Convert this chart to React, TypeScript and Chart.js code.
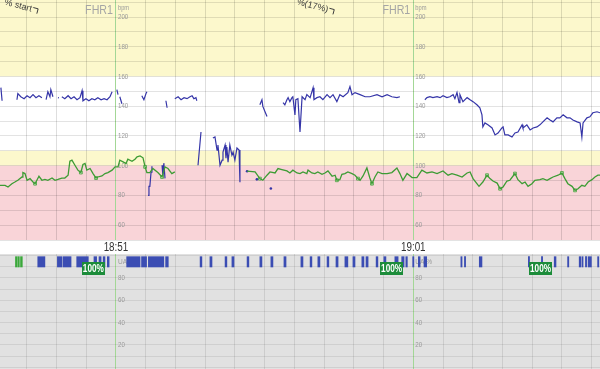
import React, { useEffect, useRef } from 'react';
import { Chart, registerables } from 'chart.js';

Chart.register(...registerables);

// Time axis in minutes relative to 18:51
const X_MIN = -3.9;
const X_MAX = 16.28;
const majorMinutes = [0, 10];
const timeLabels = ['18:51', '19:01'];

const FHR_MIN = 50;
const FHR_MAX = 211.5;
const UA_MIN = -1.5;
const UA_MAX = 101.3;

const fhrTicks = [200, 180, 160, 140, 120, 100, 80, 60];
const uaTicks = [80, 60, 40, 20];

const bandLow = [160, 110, 100, 50];
const bandHigh = [211.5, 160, 110, 100];
const bandColor = ['#fcf8cc', '#ffffff', '#fcf8cc', '#f9d4d8'];

// Maternal heart rate (green)
const mhrTimes = [
  -3.90, -3.73, -3.63, -3.50, -3.40, -3.30, -3.16, -3.13, -3.06, -2.99, -2.89, -2.79, -2.72, -2.66, -2.59, -2.49,
  -2.39, -2.29, -2.15, -2.05, -1.95, -1.82, -1.72, -1.61, -1.55, -1.48, -1.38, -1.28, -1.18, -1.11, -1.04, -0.98,
  -0.87, -0.77, -0.67, -0.61, -0.47, -0.37, -0.27, -0.13, -0.03, 0.07, 0.13, 0.24, 0.34, 0.40, 0.54, 0.64, 0.71,
  0.81, 0.91, 0.98, 1.04, 1.14, 1.24, 1.41, 1.55, 1.65, 1.75, 1.88, 1.98, 2.2,
  4.41, 4.68, 4.84, 4.94, 5.08, 5.18, 5.35, 5.45, 5.58, 5.75, 5.85, 5.95, 6.09, 6.19, 6.29, 6.42, 6.46, 6.59, 6.69,
  6.79, 6.93, 7.03, 7.13, 7.27, 7.37, 7.43, 7.53, 7.60, 7.70, 7.80, 7.94, 8.04, 8.14, 8.21, 8.31, 8.44, 8.54, 8.61,
  8.71, 8.81, 8.95, 9.12, 9.28, 9.45, 9.55, 9.65, 9.79, 9.96, 10.12, 10.29, 10.46, 10.63, 10.80, 11.00, 11.17,
  11.30, 11.47, 11.64, 11.81, 11.91, 12.01, 12.14, 12.21, 12.34, 12.48, 12.58, 12.68, 12.82, 12.92, 13.02, 13.15,
  13.25, 13.42, 13.52, 13.66, 13.76, 13.86, 13.99, 14.09, 14.26, 14.36, 14.50, 14.60, 14.70, 14.87, 15.00, 15.10,
  15.20, 15.34, 15.44, 15.54, 15.67, 15.77, 15.88, 16.01, 16.11, 16.21, 16.28,
];
const mhrValues = [
  86.8, 86.8, 85.7, 87.9, 89.0, 90.2, 92.4, 95.4, 94.7, 90.2, 91.3, 89.0, 87.9, 90.2, 92.9, 90.2,
  90.8, 90.2, 91.7, 90.2, 90.8, 91.7, 91.7, 93.6, 103.0, 103.7, 100.3, 97.0, 95.4, 100.8, 101.5, 97.0,
  98.1, 94.7, 91.7, 92.4, 93.1, 94.7, 95.4, 97.0, 99.2, 99.2, 103.7, 102.6, 101.5, 104.4, 103.0, 104.4, 106.0,
  106.6, 105.3, 99.2, 95.4, 95.4, 98.1, 95.4, 92.4, 99.2, 98.1, 94.7, 95.8, null,
  96.3, 95.8, 91.3, 90.2, 93.6, 95.8, 95.1, 98.1, 97.4, 96.5, 95.1, 97.0, 95.1, 94.7, 95.8, 94.7, 97.0, 95.1, 94.7,
  95.8, 94.2, 95.1, 96.5, 92.9, 93.6, 90.2, 90.6, 94.2, 94.7, 95.8, 94.7, 93.6, 91.3, 90.2, 93.1, 98.5, 91.7, 87.9,
  92.4, 95.8, 94.7, 94.7, 95.4, 98.5, 94.7, 90.2, 94.7, 92.0, 92.0, 97.0, 95.1, 95.8, 94.7, 96.5, 93.6,
  94.7, 93.6, 92.4, 95.1, 95.8, 91.3, 87.9, 86.1, 89.0, 93.6, 91.3, 89.7, 88.3, 84.5, 85.7, 89.7,
  90.2, 94.7, 90.6, 87.9, 89.0, 86.1, 87.9, 90.2, 90.6, 91.3, 90.2, 91.3, 92.4, 93.6, 95.1, 91.3,
  87.9, 86.1, 83.4, 84.5, 86.8, 86.1, 89.0, 90.6, 92.4, 93.6, 93.6,
];

// Marked maternal samples (small squares on the green trace)
const mhrMarkTimes = [-2.72, -1.18, -0.67, 0.98, 1.55, 4.84, 7.43, 8.14, 8.61, 12.48, 12.92, 13.42, 15.00, 15.44];
const mhrMarkValues = [87.9, 95.4, 91.7, 99.2, 92.4, 91.3, 90.2, 91.3, 87.9, 93.6, 84.5, 94.7, 95.1, 83.4];

// Fetal heart rate FHR1 (blue), null = signal gap
const fhrTimes = [
  -3.87, -3.83, -3.6,
  -3.33, -3.30, -3.20, -3.09, -2.99, -2.89, -2.79, -2.69, -2.59, -2.49, -2.42,
  -2.35, -2.29, -2.22, -2.19, -2.12, -2.0,
  -1.95, -1.92, -1.87,
  -1.82, -1.72, -1.61, -1.51, -1.41, -1.31, -1.21, -1.14, -1.11, -1.01, -0.91, -0.81, -0.71, -0.61, -0.50, -0.40,
  -0.30, -0.20, -0.13, -0.05,
  0.03, 0.07, 0.10,
  0.13, 0.20, 0.5,
  0.87, 0.94, 1.01, 1.04, 1.06,
  1.08, 1.11, 1.14, 1.18, 1.21, 1.4,
  1.55, 1.58, 1.61, 1.65, 1.66,
  1.68, 1.72, 1.85,
  1.98, 2.09, 2.19, 2.29, 2.39, 2.49, 2.56, 2.62, 2.69, 2.72, 2.74,
  2.76, 2.86, 3.0,
  3.26, 3.33, 3.40, 3.43, 3.50, 3.57, 3.60, 3.67, 3.70, 3.73, 3.77, 3.83, 3.90, 3.94, 4.00, 4.07, 4.14, 4.17, 4.5,
  4.84, 4.91, 4.94, 5.01, 5.08, 5.3,
  5.62, 5.68, 5.75, 5.79, 5.85, 5.92, 5.95, 6.02, 6.05, 6.12, 6.19, 6.26, 6.36, 6.42, 6.53, 6.63, 6.66, 6.76, 6.86,
  6.96, 7.10, 7.20, 7.30, 7.43, 7.53, 7.64, 7.80, 7.87, 7.94, 8.04, 8.21, 8.38, 8.54, 8.78, 8.95, 9.12, 9.28, 9.45,
  9.55, 10.0,
  10.39, 10.46, 10.56, 10.66, 10.80, 10.90, 11.00, 11.13, 11.23, 11.34, 11.40, 11.47, 11.54, 11.57, 11.67, 11.81,
  11.91, 12.01, 12.14, 12.24, 12.31, 12.34, 12.41, 12.51, 12.65, 12.75, 12.85, 12.98, 13.02, 13.08, 13.19, 13.32,
  13.42, 13.52, 13.66, 13.69, 13.82, 13.93, 14.03, 14.16, 14.26, 14.36, 14.50, 14.60, 14.70, 14.83, 14.93, 15.04,
  15.17, 15.27, 15.37, 15.51, 15.61, 15.67, 15.71, 15.84, 15.94, 16.04, 16.18, 16.28,
];
const fhrValues = [
  152.5, 143.7, null,
  144.4, 148.5, 146.4, 145.1, 147.1, 145.8, 147.8, 145.8, 147.1, 145.8, null,
  144.4, 149.8, 146.4, 151.2, 146.4, null,
  145.8, 145.6, null,
  146.4, 145.1, 147.1, 145.1, 146.4, 144.4, 145.8, 150.5, 143.7, 145.1, 143.7, 145.1, 144.4, 145.8, 144.4, 145.1,
  144.4, 146.4, 149.8, null,
  151.2, 147.8, null,
  146.4, 141.7, null,
  147.1, 144.4, 148.5, 149.8, null,
  80.0, 86.1, 86.1, 95.6, 99.7, null,
  100.3, 92.9, 101.7, 91.5, null,
  143.7, 139.0, null,
  145.1, 146.4, 144.4, 145.8, 145.1, 146.4, 147.1, 145.1, 145.8, 143.7, null,
  100.3, 122.7, null,
  118.6, 119.3, 110.5, 113.9, 100.3, 103.7, 109.2, 113.9, 105.1, 112.5, 102.4, 113.9, 107.1, 109.2, 103.7, 111.9, 110.5, 88.8, null,
  141.0, 144.4, 139.9, 136.5, 133.1, null,
  142.4, 141.0, 144.4, 145.8, 143.1, 145.8, 146.4, 134.2, 144.4, 145.1, 122.7, 146.4, 144.4, 147.8, 145.8, 152.5, 144.4, 145.8, 146.4,
  144.4, 147.8, 145.8, 147.8, 143.1, 147.8, 146.4, 149.2, 153.2, 147.8, 149.2, 147.8, 146.4, 146.4, 147.8, 146.4, 147.8, 146.4, 145.8,
  146.4, null,
  144.4, 145.8, 146.4, 145.8, 146.4, 145.8, 147.1, 145.8, 146.4, 147.8, 145.1, 149.2, 142.4, 147.8, 143.1, 145.8,
  144.4, 143.1, 141.0, 139.0, 134.2, 126.1, 128.8, 127.5, 125.4, 120.7, 122.0, 125.4, 126.1, 120.7, 120.7, 119.3,
  122.0, 122.7, 127.5, 125.4, 127.5, 124.1, 125.4, 126.1, 127.5, 129.5, 132.2, 130.8, 129.5, 132.2, 132.2, 134.2,
  132.2, 132.2, 130.8, 129.5, 128.8, 119.3, 128.8, 132.2, 132.9, 135.6, 136.3, 135.6,
];

// Isolated FHR1 samples
const fhrDotTimes = [4.41, 4.74, 5.21];
const fhrDotValues = [96.3, 90.8, 84.7];

// Signal-quality marks on the UA strip (start / end, minutes)
const qualBlueStart = [
  -2.63, -1.97, -1.77, -1.32, -0.74, -0.57, -0.43, -0.29, 0.36, 0.86, 1.09, 1.67, 2.83, 3.16, 3.67, 3.90, 4.41,
  4.84, 5.21, 5.65, 6.22, 6.53, 6.79, 7.10, 7.40, 7.70, 7.97, 8.27, 8.41, 8.75, 9.01, 9.38, 9.61, 9.75, 9.98,
  10.17, 10.36, 11.60, 11.72, 12.22, 13.87, 14.31, 14.74, 15.19, 15.58, 15.67, 15.79, 15.88, 16.20,
];
const qualBlueEnd = [
  -2.39, -1.81, -1.51, -0.93, -0.65, -0.50, -0.37, -0.23, 0.81, 1.03, 1.61, 1.76, 2.89, 3.23, 3.73, 3.97, 4.47,
  4.91, 5.28, 5.72, 6.29, 6.59, 6.86, 7.16, 7.47, 7.80, 8.04, 8.34, 8.48, 8.81, 9.08, 9.49, 9.69, 9.80, 10.00,
  10.23, 10.45, 11.64, 11.76, 12.31, 13.90, 14.35, 14.80, 15.23, 15.63, 15.71, 15.83, 15.99, 16.24,
];
const qualGreenStart = [-3.38, -3.29, -3.21];
const qualGreenEnd = [-3.32, -3.25, -3.15];
const QUAL_LEVEL = 94.3;

const qualityLabelTimes = [-0.76, 9.27, 14.28];
const qualityLabelText = ['100%', '100%', '100%'];

const annotationText = ['% start', '%(17%)'];
const annotationTimes = [-2.83, 7.13];
const annotationValues = [205.3, 204.8];

const FONT = "Arial, 'Liberation Sans', sans-serif";

function txt(ctx: CanvasRenderingContext2D, text: string, x: number, y: number, size: number, color: string,
  align: CanvasTextAlign, weight = 'normal', sx = 0.82) {
  ctx.save();
  ctx.translate(x, y);
  ctx.scale(sx, 1);
  ctx.font = `${weight} ${size}px ${FONT}`;
  ctx.fillStyle = color;
  ctx.textAlign = align;
  ctx.textBaseline = 'middle';
  ctx.fillText(text, 0, 0);
  ctx.restore();
}

const pairs = (t: number[], v: (number | null)[]) => t.map((x, i) => ({ x, y: v[i] }));

const minorColorTop = 'rgba(0,0,0,0.13)';
const majorColor = '#a3d796';

const fhrPlugin = {
  id: 'fhrDecor',
  beforeDraw(chart: any) {
    const { ctx, chartArea: a, scales } = chart;
    const y = scales.y;
    ctx.save();
    ctx.fillStyle = '#ffffff';
    ctx.fillRect(0, 0, chart.width, chart.height);
    for (let i = 0; i < bandLow.length; i++) {
      const top = y.getPixelForValue(Math.min(bandHigh[i], y.max));
      const bot = y.getPixelForValue(Math.max(bandLow[i], y.min));
      ctx.fillStyle = bandColor[i];
      ctx.fillRect(a.left, top, a.right - a.left, bot - top);
    }
    ctx.restore();
  },
  beforeDatasetsDraw(chart: any) {
    const { ctx, chartArea: a, scales } = chart;
    const { x, y } = scales;
    majorMinutes.forEach((m, i) => {
      const px = x.getPixelForValue(m);
      txt(ctx, 'FHR1', px - 3, 10, 13, '#a5a5a5', 'right');
      txt(ctx, 'bpm', px + 2, 8, 7, '#9a9a9a', 'left');
      fhrTicks.forEach((v) => txt(ctx, String(v), px + 2, y.getPixelForValue(v), 7.5, '#999999', 'left'));
      txt(ctx, timeLabels[i], px, a.bottom + 7.5, 12, '#333333', 'center');
    });
    annotationText.forEach((t, i) => {
      const px = x.getPixelForValue(annotationTimes[i]);
      const py = y.getPixelForValue(annotationValues[i]);
      ctx.save();
      ctx.translate(px, py);
      ctx.rotate(0.26);
      ctx.font = `9px ${FONT}`;
      ctx.fillStyle = '#3a3a3a';
      ctx.textAlign = 'right';
      ctx.textBaseline = 'middle';
      ctx.fillText(t, 0, 0);
      ctx.strokeStyle = '#3a3a3a';
      ctx.lineWidth = 0.9;
      ctx.beginPath();
      ctx.moveTo(1, -2);
      ctx.lineTo(6, -2);
      ctx.lineTo(6, 3);
      ctx.stroke();
      ctx.restore();
    });
  },
};

const uaPlugin = {
  id: 'uaDecor',
  beforeDraw(chart: any) {
    const { ctx, chartArea: a } = chart;
    ctx.save();
    ctx.fillStyle = '#e1e1e1';
    ctx.fillRect(a.left, a.top, a.right - a.left, a.bottom - a.top);
    ctx.restore();
  },
  beforeDatasetsDraw(chart: any) {
    const { ctx, scales } = chart;
    const { x, y } = scales;
    majorMinutes.forEach((m) => {
      const px = x.getPixelForValue(m);
      txt(ctx, 'UA %', px + 2, y.getPixelForValue(94.5), 8, '#9a9a9a', 'left');
      uaTicks.forEach((v) => txt(ctx, String(v), px + 2, y.getPixelForValue(v), 7.5, '#9a9a9a', 'left'));
    });
  },
  afterDatasetsDraw(chart: any) {
    const { ctx, scales } = chart;
    const { x, y } = scales;
    qualityLabelTimes.forEach((t, i) => {
      const cx = x.getPixelForValue(t);
      const cy = y.getPixelForValue(88);
      ctx.save();
      ctx.fillStyle = '#1c8c3a';
      ctx.fillRect(Math.round(cx - 11.5), Math.round(cy - 6.5), 23, 13);
      ctx.restore();
      txt(ctx, qualityLabelText[i], cx, cy + 0.5, 10, '#ffffff', 'center', 'bold');
    });
  },
};

export default function App() {
  const topRef = useRef<HTMLCanvasElement>(null);
  const botRef = useRef<HTMLCanvasElement>(null);

  useEffect(() => {
    const gridColorX = (minor: string) => (c: any) => {
      const v = c.tick ? c.tick.value : NaN;
      if (majorMinutes.includes(v)) return majorColor;
      return minor;
    };

    const top = new Chart(topRef.current as HTMLCanvasElement, {
      type: 'line',
      data: {
        datasets: [
          {
            label: 'MHR',
            data: pairs(mhrTimes, mhrValues),
            borderColor: '#3d9c34',
            borderWidth: 1.3,
            pointRadius: 0,
            pointHoverRadius: 0,
            spanGaps: false,
            tension: 0,
          },
          {
            label: 'MHR marks',
            data: pairs(mhrMarkTimes, mhrMarkValues),
            showLine: false,
            pointStyle: 'rect',
            pointRadius: 2,
            pointHoverRadius: 0,
            pointBackgroundColor: '#eef7e6',
            pointBorderColor: '#3d9c34',
            pointBorderWidth: 0.8,
          },
          {
            label: 'FHR1',
            data: pairs(fhrTimes, fhrValues),
            borderColor: '#3535a8',
            borderWidth: 1.2,
            pointRadius: 0,
            pointHoverRadius: 0,
            spanGaps: false,
            tension: 0,
          },
          {
            label: 'FHR1 samples',
            data: pairs(fhrDotTimes, fhrDotValues),
            showLine: false,
            pointRadius: 1.3,
            pointHoverRadius: 0,
            pointBackgroundColor: '#3535a8',
            pointBorderWidth: 0,
          },
        ],
      } as any,
      options: {
        responsive: false,
        animation: false,
        events: [],
        layout: { autoPadding: false, padding: { top: 0, left: 0, right: 0, bottom: 14 } },
        plugins: { legend: { display: false }, tooltip: { enabled: false } },
        scales: {
          x: {
            type: 'linear', min: X_MIN, max: X_MAX,
            ticks: { display: false, stepSize: 1, includeBounds: false },
            grid: { drawTicks: false, color: gridColorX(minorColorTop), lineWidth: 1 },
            border: { display: false },
          },
          y: {
            type: 'linear', min: FHR_MIN, max: FHR_MAX,
            ticks: { display: false, stepSize: 10, includeBounds: false },
            grid: { drawTicks: false, color: 'rgba(0,0,0,0.11)', lineWidth: 1 },
            border: { display: false },
          },
        },
      } as any,
      plugins: [fhrPlugin],
    });

    const bot = new Chart(botRef.current as HTMLCanvasElement, {
      type: 'bar',
      data: {
        datasets: [
          {
            label: 'Quality',
            data: qualBlueStart.map((s, i) => ({ x: [s, qualBlueEnd[i]], y: QUAL_LEVEL })),
            backgroundColor: '#3b4db3',
            barThickness: 10.3,
            minBarLength: 1.2,
            grouped: false,
          },
          {
            label: 'Quality (green)',
            data: qualGreenStart.map((s, i) => ({ x: [s, qualGreenEnd[i]], y: QUAL_LEVEL })),
            backgroundColor: '#3aa83a',
            barThickness: 10.3,
            minBarLength: 1.2,
            grouped: false,
          },
        ],
      } as any,
      options: {
        indexAxis: 'y',
        responsive: false,
        animation: false,
        events: [],
        layout: { autoPadding: false, padding: 0 },
        plugins: { legend: { display: false }, tooltip: { enabled: false } },
        scales: {
          x: {
            type: 'linear', min: X_MIN, max: X_MAX,
            ticks: { display: false, stepSize: 1, includeBounds: false },
            grid: { drawTicks: false, color: gridColorX('rgba(0,0,0,0.09)'), lineWidth: 1, offset: false },
            border: { display: false },
          },
          y: {
            type: 'linear', min: UA_MIN, max: UA_MAX, offset: false,
            ticks: { display: false, stepSize: 10, includeBounds: false },
            grid: { drawTicks: false, color: 'rgba(0,0,0,0.08)', lineWidth: 1, offset: false },
            border: { display: false },
          },
        },
      } as any,
      plugins: [uaPlugin],
    });

    return () => {
      top.destroy();
      bot.destroy();
    };
  }, []);

  return (
    <div style={{ position: 'absolute', left: 0, top: 0, width: 600, height: 369, background: '#ffffff' }}>
      <canvas ref={topRef} width={600} height={254} style={{ display: 'block', width: 600, height: 254 }} />
      <canvas ref={botRef} width={600} height={115} style={{ display: 'block', width: 600, height: 115 }} />
    </div>
  );
}
